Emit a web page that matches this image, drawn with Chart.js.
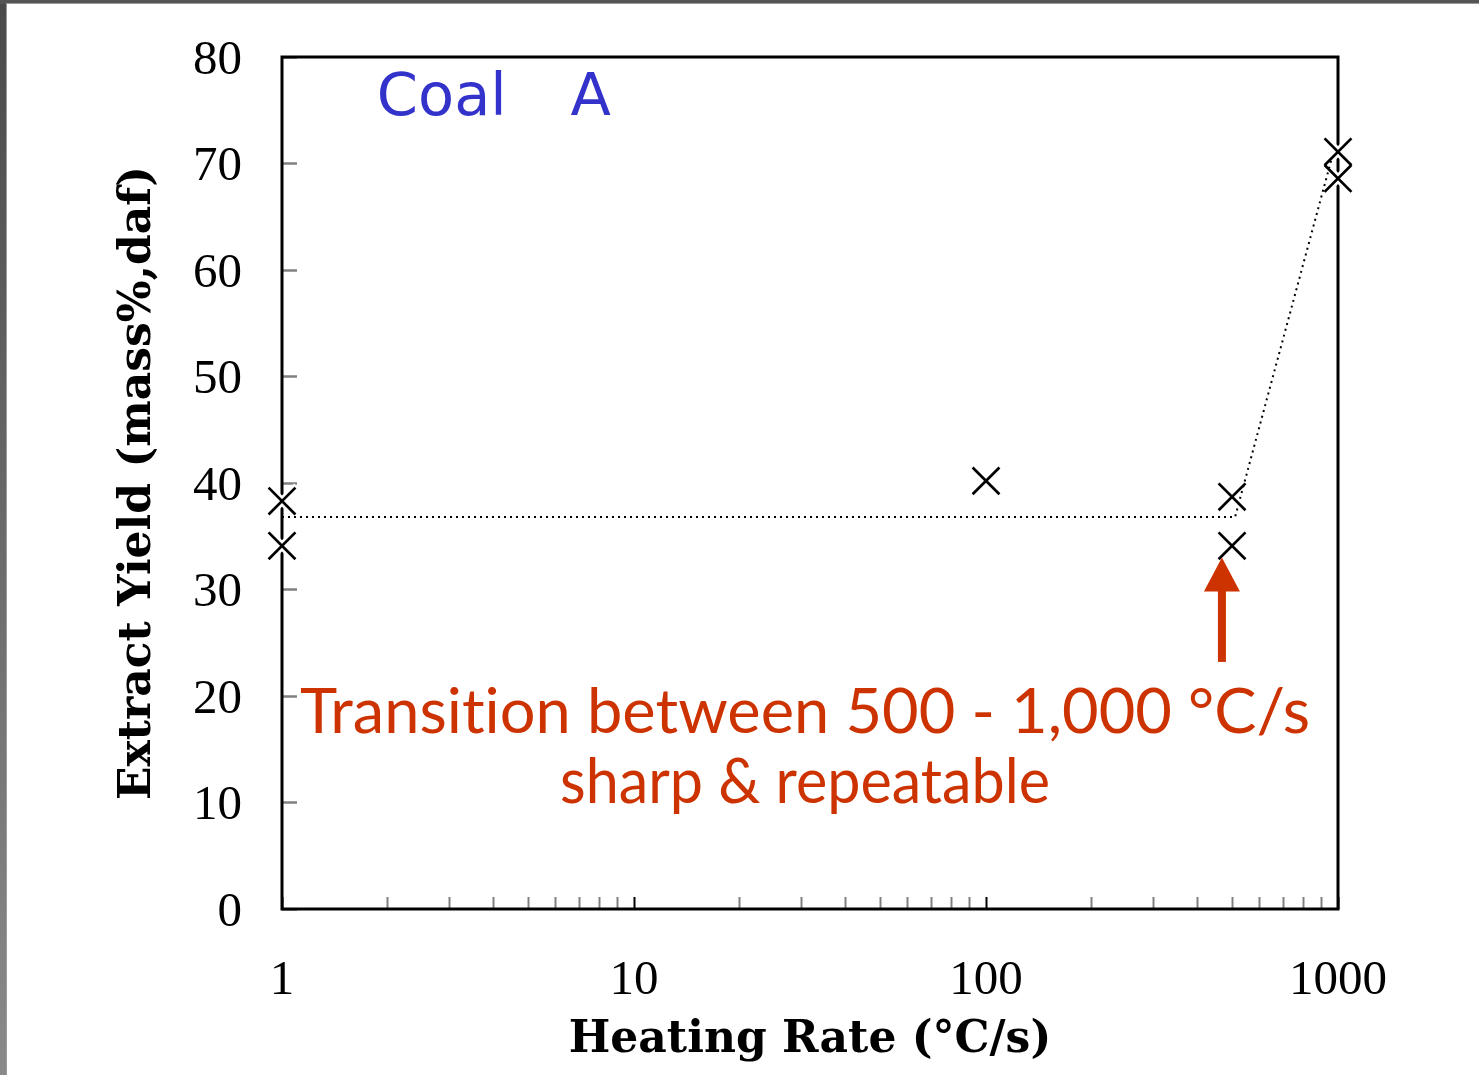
<!DOCTYPE html>
<html><head><meta charset="utf-8">
<script src="https://cdn.jsdelivr.net/npm/chart.js@4.4.1/dist/chart.umd.min.js"></script>
<style>html,body{margin:0;padding:0;background:#fff;overflow:hidden}canvas{display:block}</style>
</head><body>
<canvas id="c" width="1479" height="1075"></canvas>
<script>
// ---- data ----
const heatingRates  = [1, 1, 100, 500, 500, 1000, 1000];
const extractYields = [38.3, 34.1, 40.2, 38.7, 34.1, 71.1, 68.6];
const trendRates  = [1, 510, 960];
const trendYields = [36.8, 36.8, 70.5];
const xTickLabels = [1, 10, 100, 1000];
const yMin = 0, yMax = 80, yStep = 10;
const xTitle = 'Heating Rate (°C/s)';
const yTitle = 'Extract Yield (mass%,daf)';
const sampleLabel = ['Coal', 'A'];
const noteLines = ['Transition between 500 - 1,000 °C/s', 'sharp & repeatable'];
// annotation anchors in data units
const sampleLabelAt = [{x: 1.86, y: 74.6}, {x: 6.6, y: 74.6}];
const arrowAt = {x: 468, yTail: 23.2, yHead: 33.0};
const noteBaselines = [16.5, 10.0];

const points = heatingRates.map((x, i) => ({x, y: extractYields[i]}));
const trend = trendRates.map((x, i) => ({x, y: trendYields[i]}));

const RED = '#cc3300';

const bgPlugin = {
  id: 'bg',
  beforeDraw(chart) {
    const c = chart.ctx;
    c.save();
    c.fillStyle = '#fff';
    c.fillRect(0, 0, chart.width, chart.height);
    const g = c.createLinearGradient(0, 0, 0, chart.height);
    g.addColorStop(0, '#4a4a4a'); g.addColorStop(1, '#8a8a8a');
    c.fillStyle = g;
    c.fillRect(0, 0, 7, chart.height);
    c.fillStyle = '#555';
    c.fillRect(0, 0, chart.width, 4);
    c.fillStyle = '#9a9a9a';
    c.fillRect(6, 4, 1, chart.height);
    c.fillRect(6, 3, chart.width, 1);
    c.restore();
  }
};

const framePlugin = {
  id: 'frame',
  beforeDatasetsDraw(chart) {
    const {left, top, right, bottom} = chart.chartArea;
    const c = chart.ctx;
    c.save();
    c.strokeStyle = '#000';
    c.lineWidth = 3;
    c.strokeRect(left, top, right - left, bottom - top);
    c.restore();
  }
};

function fitText(c, text, cx, y, targetW) {
  const w = c.measureText(text).width;
  const sx = targetW / w;
  c.save();
  c.translate(cx, y);
  c.scale(sx, 1);
  c.textAlign = 'center';
  c.fillText(text, 0, 0);
  c.restore();
}

const notePlugin = {
  id: 'notes',
  afterDatasetsDraw(chart) {
    const c = chart.ctx;
    const xs = chart.scales.x, ys = chart.scales.y;
    c.save();
    // sample label
    c.fillStyle = '#3333cc';
    c.font = '59px "DejaVu Sans"';
    c.textBaseline = 'alphabetic';
    c.textAlign = 'left';
    sampleLabel.forEach((t, i) => {
      c.fillText(t, xs.getPixelForValue(sampleLabelAt[i].x), ys.getPixelForValue(sampleLabelAt[i].y));
    });
    // arrow
    const ax = xs.getPixelForValue(arrowAt.x);
    const yT = ys.getPixelForValue(arrowAt.yTail);
    const yH = ys.getPixelForValue(arrowAt.yHead);
    const headLen = 34, headHalf = 18, shaftHalf = 4;
    c.fillStyle = RED;
    c.fillRect(ax - shaftHalf, yH + headLen - 1, shaftHalf * 2, yT - (yH + headLen - 1));
    c.beginPath();
    c.moveTo(ax, yH);
    c.lineTo(ax + headHalf, yH + headLen);
    c.lineTo(ax - headHalf, yH + headLen);
    c.closePath();
    c.fill();
    // notes
    const cx = (chart.chartArea.left + chart.chartArea.right) / 2 - 5;
    c.font = '62px Lato';
    c.letterSpacing = '0.01px';
    c.fillStyle = RED;
    fitText(c, noteLines[0], cx, ys.getPixelForValue(noteBaselines[0]), 1010);
    fitText(c, noteLines[1], cx, ys.getPixelForValue(noteBaselines[1]), 490);
    c.restore();
  }
};

new Chart(document.getElementById('c'), {
  type: 'scatter',
  data: {
    datasets: [
      { data: points, pointStyle: 'crossRot', pointRadius: 19, pointBorderWidth: 2.7,
        pointBorderColor: '#000', pointBackgroundColor: 'transparent', clip: false },
      { data: trend, showLine: true, borderColor: '#000', borderWidth: 2, borderDash: [2, 4],
        pointRadius: 0, fill: false, clip: false },
      { data: points, pointStyle: 'crossRot', pointRadius: 21, pointBorderWidth: 8,
        pointBorderColor: '#fff', pointBackgroundColor: 'transparent', clip: false }
    ]
  },
  options: {
    responsive: false,
    animation: false,
    devicePixelRatio: 1,
    layout: { padding: { left: 0, right: 141, top: 57, bottom: 0 } },
    plugins: { legend: { display: false }, tooltip: { enabled: false } },
    scales: {
      x: {
        type: 'logarithmic', min: 1, max: 1000, position: 'bottom',
        afterBuildTicks(s) {
          const t = [];
          for (let d = 1; d < 1000; d *= 10) for (let k = 1; k < 10; k++) t.push({value: d * k, major: false});
          t.push({value: 1000, major: false});
          s.ticks = t;
        },
        afterFit(s) { s.height = 166; s.paddingLeft = 0; s.paddingRight = 0; },
        border: { display: false },
        grid: { drawOnChartArea: false, drawTicks: true, tickLength: -12, tickWidth: 2,
                tickColor: ctx => (ctx.tick && xTickLabels.includes(ctx.tick.value)) ? '#000' : '#808080' },
        ticks: { autoSkip: false, maxRotation: 0, padding: 55, color: '#000',
                 font: { family: '"Liberation Serif"', size: 49 },
                 callback: v => xTickLabels.includes(v) ? String(v) : '' },
        title: { display: true, text: xTitle, color: '#000', padding: { top: 0, bottom: 8 },
                 font: { family: '"DejaVu Serif"', size: 44, weight: 'bold' } }
      },
      y: {
        type: 'linear', min: yMin, max: yMax, position: 'left',
        afterFit(s) { s.width = 282; s.paddingTop = 0; s.paddingBottom = 0; },
        border: { display: false },
        grid: { drawOnChartArea: false, drawTicks: true, tickLength: -15, tickWidth: 2.5, tickColor: '#808080' },
        ticks: { stepSize: yStep, padding: 55, labelOffset: 4, color: '#000',
                 font: { family: '"Liberation Serif"', size: 49 } },
        title: { display: true, text: yTitle, color: '#000', padding: { top: 112, bottom: 0 },
                 font: { family: '"DejaVu Serif"', size: 44, weight: 'bold' } }
      }
    }
  },
  plugins: [bgPlugin, framePlugin, notePlugin]
});
</script>
</body></html>
